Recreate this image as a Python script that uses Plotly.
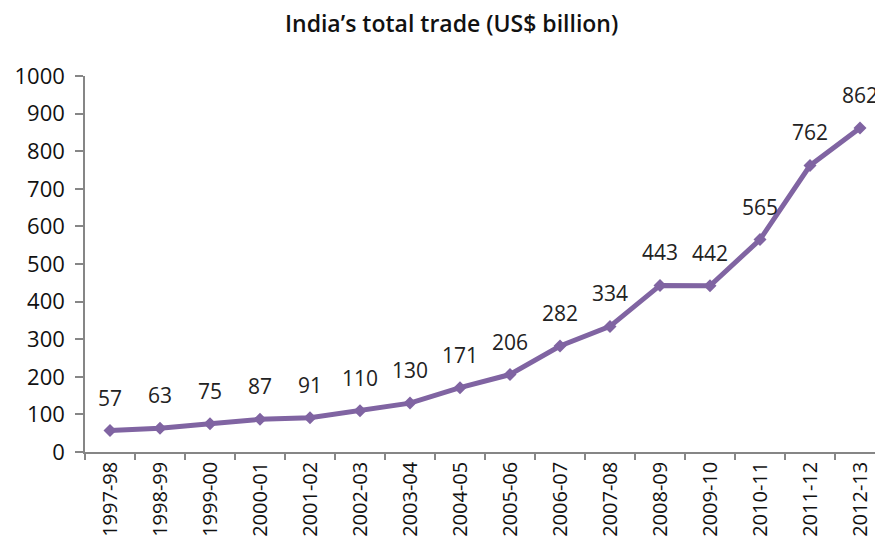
import plotly.graph_objects as go

years = ["1997-98", "1998-99", "1999-00", "2000-01", "2001-02", "2002-03",
         "2003-04", "2004-05", "2005-06", "2006-07", "2007-08", "2008-09",
         "2009-10", "2010-11", "2011-12", "2012-13"]
trade = [57, 63, 75, 87, 91, 110, 130, 171, 206, 282, 334, 443, 442, 565, 762, 862]

purple = "#8064A2"
axis_grey = "#868686"
txt = "Open Sans"

fig = go.Figure()

fig.add_trace(go.Scatter(x=years, y=trade,
                         mode="lines+markers",
                         line=dict(color=purple, width=5),
                         marker=dict(symbol="diamond", size=10, color=purple),
                         hoverinfo="x+y"))

# value labels sitting above each point
for yr, val in zip(years, trade):
    fig.add_annotation(x=yr, y=val, text=str(val), showarrow=False,
                       yshift=33, font=dict(family=txt, size=21, color="#222222"))

# page body has an 8px margin, so the figure is 8px smaller than the window
fig.update_layout(width=875, height=544,
                  margin={"l": 77, "r": 0, "t": 68, "b": 100},
                  paper_bgcolor="white", plot_bgcolor="white",
                  showlegend=False,
                  title=dict(text="India’s total trade (US$ billion)",
                             x=0.507, xref="container", xanchor="center",
                             y=0.97, yref="container", yanchor="middle",
                             font=dict(family=txt, size=23, color="#111111",
                                       weight=600)))

fig.update_xaxes(type="category", range=[-0.5, 15.46],
                 showline=True, linecolor=axis_grey, linewidth=1.5,
                 ticks="outside", tickson="boundaries", ticklen=6,
                 tickcolor=axis_grey, tickwidth=1.5,
                 tickangle=-90, showgrid=False,
                 tickfont=dict(family=txt, size=20, color="#111111"))

fig.update_yaxes(range=[0, 1000], dtick=100,
                 showline=True, linecolor=axis_grey, linewidth=1.5,
                 ticks="outside", ticklen=8, tickcolor=axis_grey, tickwidth=1.5,
                 ticklabelstandoff=6,
                 showgrid=False, zeroline=False,
                 tickfont=dict(family=txt, size=22, color="#111111"))

fig.write_html("out.html")
